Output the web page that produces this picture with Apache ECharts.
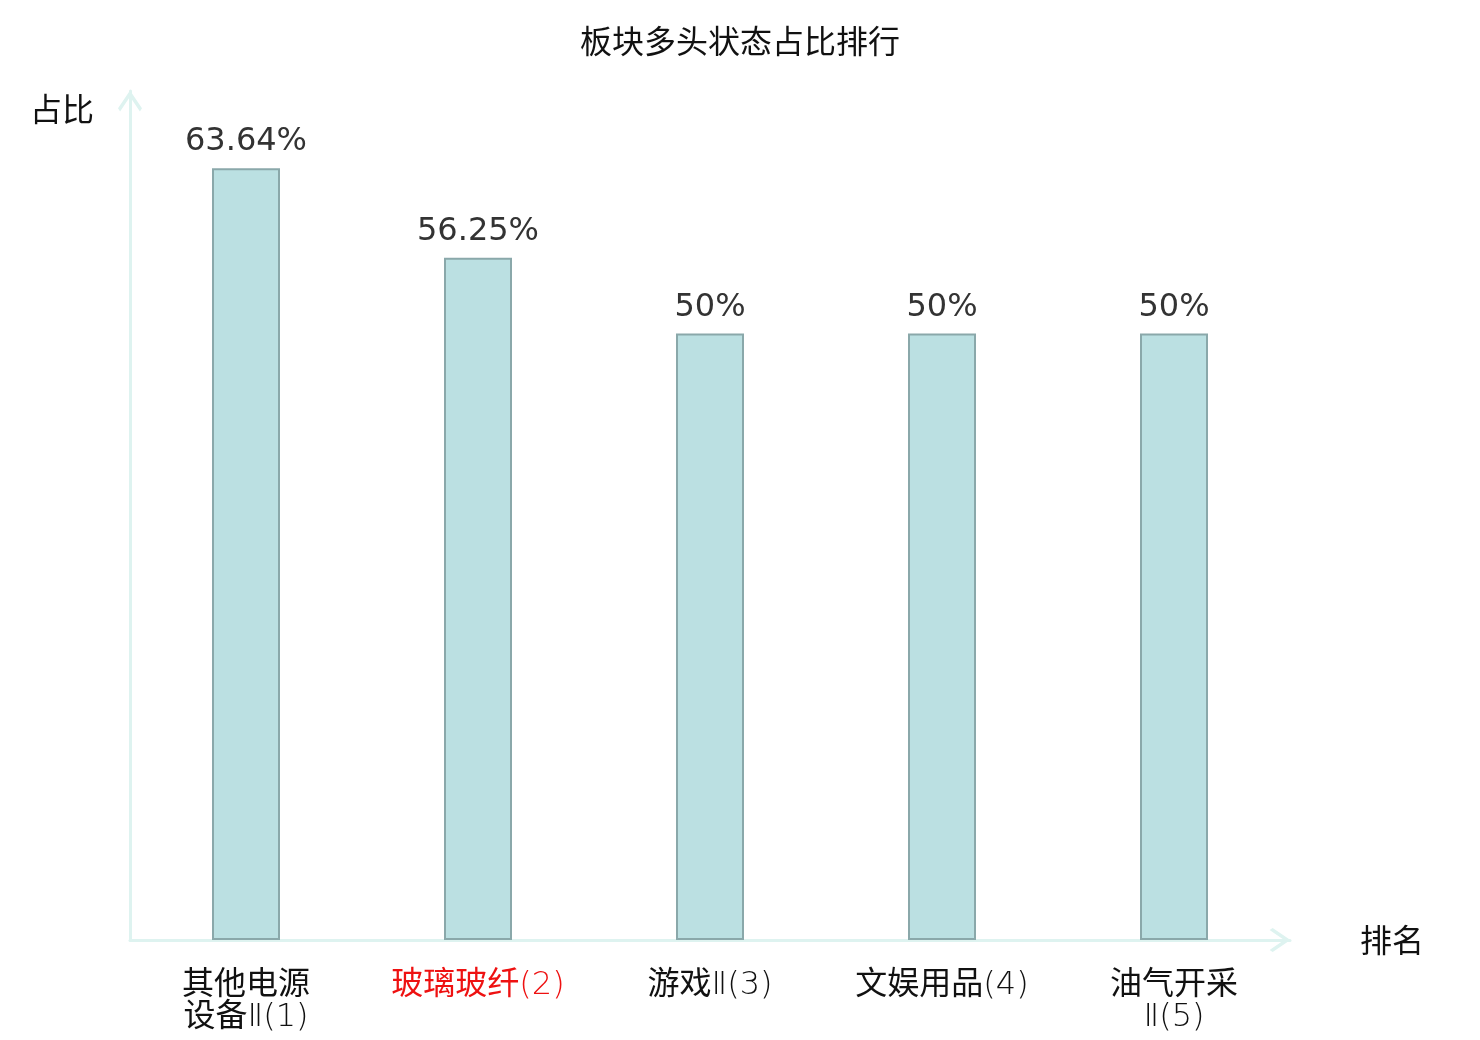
<!DOCTYPE html>
<html>
<head>
<meta charset="utf-8">
<title>板块多头状态占比排行</title>
<script src="https://cdn.jsdelivr.net/npm/echarts@6/dist/echarts.min.js"></script>
<style>
  html, body { margin: 0; padding: 0; background: #fff; }
  #main { width: 1480px; height: 1040px; }
</style>
</head>
<body>
<div id="main"></div>
<script>
// 板块名称(按排名)
const names = ['其他电源设备Ⅱ', '玻璃玻纤', '游戏Ⅱ', '文娱用品', '油气开采Ⅱ'];
// 排名
const ranks = [1, 2, 3, 4, 5];
// 多头状态占比(%)
const ratios = [63.64, 56.25, 50, 50, 50];
// 需要标红的排名
const highlightRank = 2;

const cjk = '"Noto Sans CJK SC", sans-serif';
const mixed = '"DejaVu Sans", "Noto Sans CJK SC", sans-serif';
const axisColor = '#def3f0';
// 开口箭头
const chevron = 'path://M11.5,0 L23,17 L21,20 L11.5,6 L2,20 L0,17 Z';

// 名称每4个字换行, 后接排名
let wrapName = (name) => {
  let parts = [];
  for (let i = 0; i < name.length; i += 4) parts.push(name.slice(i, i + 4));
  return parts.join('\n');
};
const categories = names.map((n, i) => wrapName(n) + '(' + ranks[i] + ')');

// 汉字用常规体, 数字符号用细体
let richLabel = (value, index) => {
  let hi = ranks[index] === highlightRank ? 'r' : '';
  return value.split('\n').map(line =>
    line.replace(/([\u4e00-\u9fff]+)|([^\u4e00-\u9fff]+)/g, (m, c, l) => c ? '{c' + hi + '|' + c + '}' : '{l' + hi + '|' + l + '}')
  ).join('\n');
};
let labelStyle = (weight, color) => ({ fontFamily: mixed, fontWeight: weight, fontSize: 32, lineHeight: 32, color: color });

let chart = echarts.init(document.getElementById('main'));

let option = {
  backgroundColor: '#fff',
  animation: false,
  title: {
    text: '板块多头状态占比排行',
    left: 'center',
    top: 20,
    textStyle: { fontFamily: cjk, fontSize: 32, fontWeight: 'normal', color: '#111' }
  },
  grid: { left: 130, right: 190, top: 91, bottom: 100, containLabel: false },
  xAxis: {
    type: 'category',
    data: categories,
    name: '排名',
    nameLocation: 'end',
    nameGap: 70,
    nameTextStyle: { fontFamily: cjk, fontSize: 32, color: '#111', verticalAlign: 'middle' },
    axisLine: { show: true, symbol: ['none', chevron], symbolSize: [24, 21], symbolOffset: [0, -10], lineStyle: { color: axisColor, width: 3 } },
    axisTick: { show: false },
    axisLabel: {
      interval: 0,
      margin: 30,
      fontSize: 32,
      lineHeight: 32,
      formatter: richLabel,
      rich: {
        c: labelStyle('normal', '#111'),
        l: labelStyle(200, '#111'),
        cr: labelStyle('normal', '#ee1111'),
        lr: labelStyle(200, '#ee1111')
      }
    }
  },
  yAxis: {
    type: 'value',
    min: 0,
    max: 70,
    name: '占比',
    nameLocation: 'end',
    nameGap: 0,
    nameTextStyle: { fontFamily: cjk, fontSize: 32, color: '#111', align: 'right', padding: [0, 36, -34, 0] },
    axisLine: { show: true, symbol: ['none', chevron], symbolSize: [24, 21], symbolOffset: [0, -10], lineStyle: { color: axisColor, width: 3 } },
    axisTick: { show: false },
    axisLabel: { show: false },
    splitLine: { show: false }
  },
  series: [{
    type: 'bar',
    data: ratios,
    barWidth: 68,
    itemStyle: { color: '#bbe0e2', borderColor: '#8aa8aa', borderWidth: 2 },
    label: {
      show: true,
      position: 'top',
      distance: 10,
      fontFamily: '"DejaVu Sans", sans-serif',
      fontSize: 32,
      color: '#333',
      formatter: (p) => p.value + '%'
    }
  }]
};

chart.setOption(option);
</script>
</body>
</html>
